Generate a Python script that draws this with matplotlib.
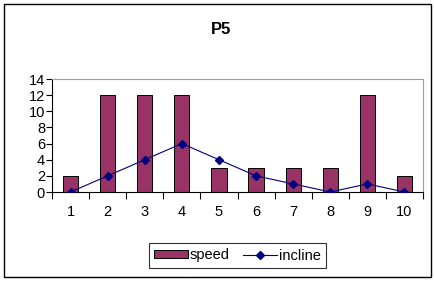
import numpy as np
import matplotlib.pyplot as plt
from matplotlib.patches import Rectangle

plt.rcParams['font.family'] = ['Liberation Sans', 'DejaVu Sans']

# data
points = [1, 2, 3, 4, 5, 6, 7, 8, 9, 10]
speed = [2, 12, 12, 12, 3, 3, 3, 3, 12, 2]
incline = [0, 2, 4, 6, 4, 2, 1, 0, 1, 0]

W, H = 434, 281
fig = plt.figure(figsize=(W / 100, H / 100), dpi=100)

# axes placed in pixel coords
left, right, top, bottom = 52, 423, 79, 192
ax = fig.add_axes([left / W, 1 - bottom / H, (right - left) / W, (bottom - top) / H])

x = np.array(points)
bars = ax.bar(x, speed, width=0.41, color='#993366', edgecolor='black', linewidth=0.7,
              label='speed', zorder=2)
line, = ax.plot(x, incline, color='#000080', linewidth=0.8, marker='D', markersize=4.5,
                label='incline', zorder=3)

ax.set_xlim(0.5, 10.5)
ax.set_ylim(0, 14)
ax.set_yticks(range(0, 15, 2))
ax.set_xticks(x)
ax.set_xticks(np.arange(0.5, 11, 1), minor=True)
ax.tick_params(axis='x', which='major', length=0, pad=9, labelsize=10.5)
ax.tick_params(axis='x', which='minor', length=5, width=0.8, direction='out')
ax.tick_params(axis='y', length=4, width=0.8, pad=1, labelsize=10.5)

for s in ['top', 'right']:
    ax.spines[s].set_color('#a0a0a0')
    ax.spines[s].set_linewidth(0.8)
for s in ['left', 'bottom']:
    ax.spines[s].set_color('black')
    ax.spines[s].set_linewidth(0.8)

fig.text(221 / W, 1 - 29 / H, 'P5', ha='center', va='center',
         fontsize=12, fontweight='bold')

leg = fig.legend([bars, line], ['speed', 'incline'], loc='center',
                 bbox_to_anchor=(237.5 / W, 1 - 255.5 / H), ncol=2,
                 frameon=True, fancybox=False, fontsize=10.5, handlelength=2.3,
                 handleheight=0.5, handletextpad=0.15, columnspacing=0.9, borderpad=0.35)
leg.get_frame().set_edgecolor('black')
leg.get_frame().set_linewidth(0.8)

# outer chart border
fig.patches.append(Rectangle((4 / W, 4 / H), 427 / W, 273 / H, transform=fig.transFigure,
                             fill=False, edgecolor='black', linewidth=1))

fig.savefig('out.png', dpi=100)
